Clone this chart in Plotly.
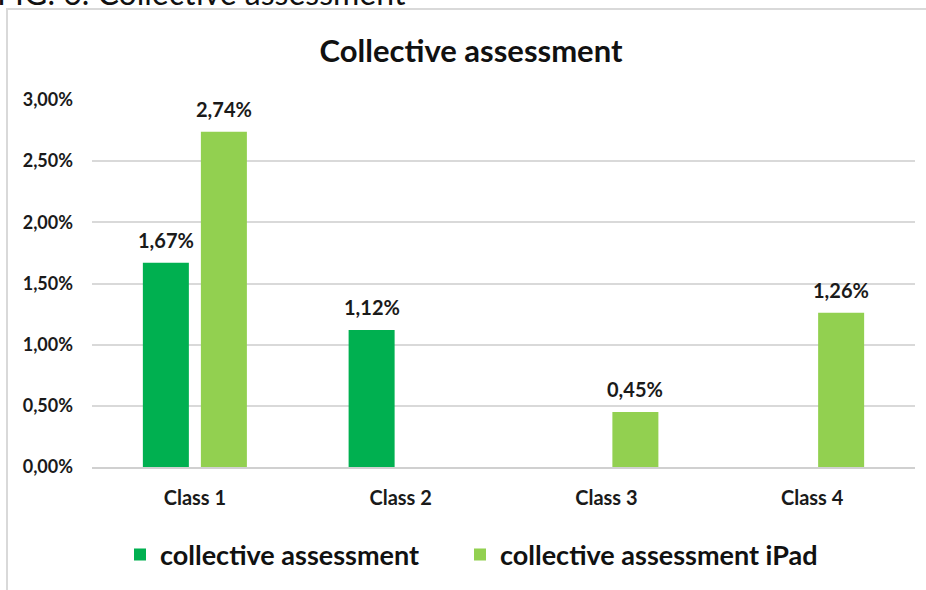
import plotly.graph_objects as go

# Category labels and series values (fractions, shown as percentages)
classes = ["Class 1", "Class 2", "Class 3", "Class 4"]
collective = [0.0167, 0.0112, None, None]
collective_ipad = [0.0274, None, 0.0045, 0.0126]

series_names = ["collective assessment", "collective assessment iPad"]
colors = ["#00b050", "#92d050"]

W, H = 926, 590
L, R, T, B = 92, 11, 100, 123
pw, ph = W - L - R, H - T - B


def px(x):
    return (x - L) / pw


def py(y):
    return (H - B - y) / ph


FONT = "Lato"


def pct(v):
    return f"{v * 100:.2f}%".replace(".", ",")


legend_ids = ["legend", "legend2"]
legend_x = [120, 460]

fig = go.Figure()
for i, (name, vals, col) in enumerate(zip(series_names, [collective, collective_ipad], colors)):
    fig.add_trace(go.Bar(
        x=classes, y=vals, name=name, offsetgroup=str(i), legend=legend_ids[i],
        marker=dict(color=col, line=dict(width=0)),
    ))

# Value labels above each bar, placed at the bar's own value
n_series = len(series_names)
bargap, bargroupgap = 0.436, 0.207
slot = (1 - bargap) / n_series
for i, vals in enumerate([collective, collective_ipad]):
    offset = -((1 - bargap) / 2) + slot * (i + 0.5)
    for k, v in enumerate(vals):
        if v is None:
            continue
        fig.add_annotation(
            x=k + offset, y=v, xref="x", yref="y", text=f"<b>{pct(v)}</b>",
            showarrow=False, xanchor="center", yanchor="bottom", yshift=9,
            font=dict(family=FONT, size=20, color="#1a1a1a"),
        )

legend_style = dict(orientation="h", y=py(555), xanchor="left", yanchor="middle",
                    font=dict(family=FONT, size=27, color="#111111", weight="bold"),
                    itemwidth=30, bgcolor="rgba(0,0,0,0)")

fig.update_layout(
    width=W, height=H,
    margin=dict(l=L, r=R, t=T, b=B, pad=0, autoexpand=False),
    paper_bgcolor="white", plot_bgcolor="white",
    separators=",.",
    barmode="group", bargap=bargap, bargroupgap=bargroupgap,
    showlegend=True,
    legend=dict(x=px(legend_x[0]), **legend_style),
    legend2=dict(x=px(legend_x[1]), **legend_style),
    title=dict(text="<b>Collective assessment</b>", xref="container", x=471 / W, xanchor="center",
               y=1 - 51 / H, yanchor="middle",
               font=dict(family=FONT, size=31, color="#111111")),
    font=dict(family=FONT),
)

fig.update_xaxes(
    range=[-0.5, 3.5],
    showgrid=False, showline=True, linecolor="#d0d0d0", linewidth=2,
    ticks="", tickfont=dict(family=FONT, size=20, color="#1a1a1a", weight="bold"),
    ticklabelstandoff=12,
)
fig.update_yaxes(
    range=[0, 0.03], dtick=0.005, tickformat=".2%",
    showgrid=True, gridcolor="#d9d9d9", gridwidth=2,
    zeroline=False, showline=False, ticks="",
    tickfont=dict(family=FONT, size=18, color="#1a1a1a", weight="bold"),
    ticklabelstandoff=18,
)

# Light grey chart frame (top and left edges)
frame = "#d9d9d9"
fig.add_shape(type="line", xref="paper", yref="paper", x0=px(6), x1=px(926), y0=py(9), y1=py(9),
              line=dict(color=frame, width=2))
fig.add_shape(type="line", xref="paper", yref="paper", x0=px(7), x1=px(7), y0=py(9), y1=py(595),
              line=dict(color=frame, width=2))

# Figure caption running along the top edge
fig.add_annotation(text="FIG. 6. Collective assessment", xref="paper", yref="paper",
                   x=px(-5), y=py(14), xanchor="left", yanchor="bottom", showarrow=False,
                   font=dict(family=FONT, size=32, color="#111111"))

fig.write_html("out.html")
